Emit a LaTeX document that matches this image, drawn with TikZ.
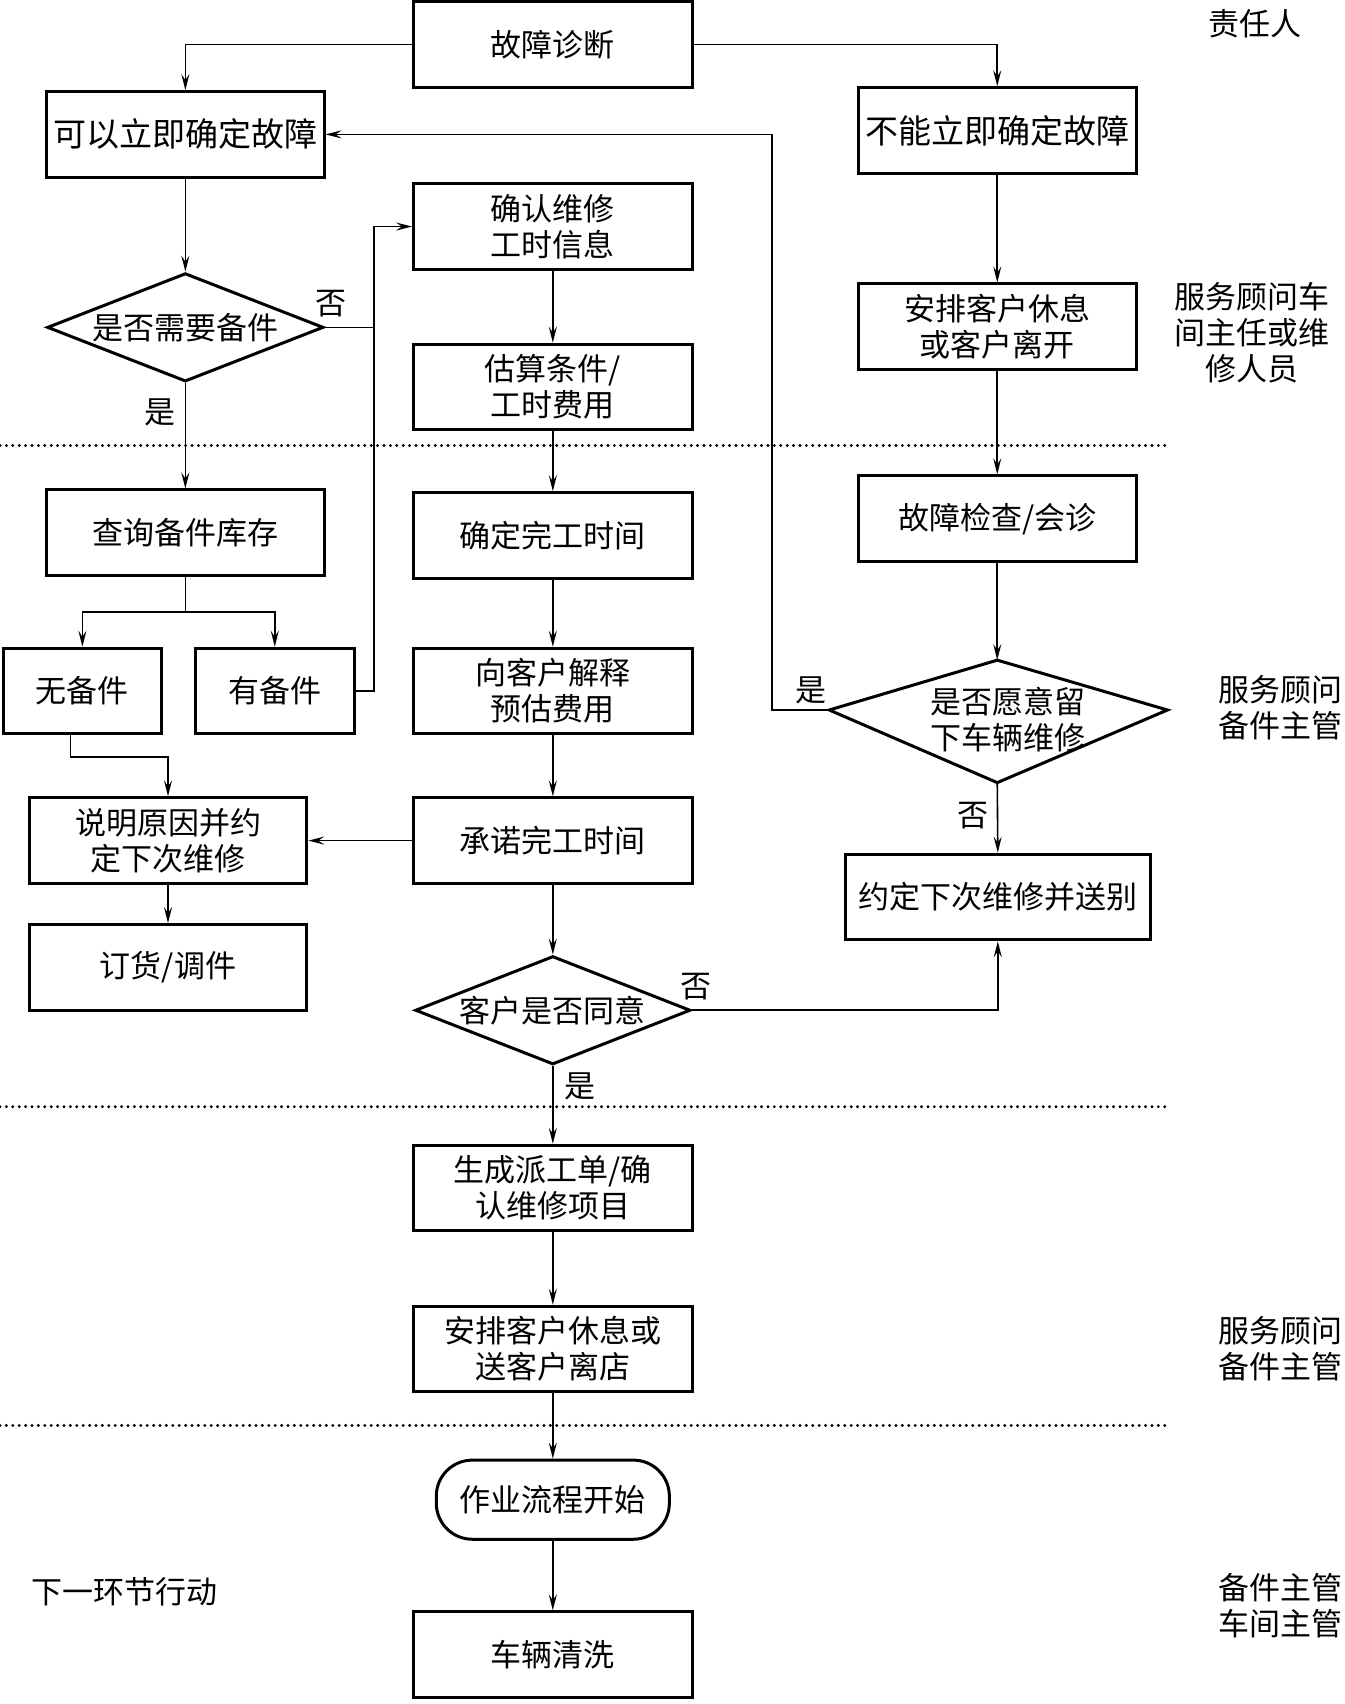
\documentclass[tikz,border=0pt]{standalone}
\usepackage{fontspec}
\newfontfamily\cjk{Noto Sans CJK SC}
\usetikzlibrary{arrows.meta,shapes.geometric}
\newlength\unitD \setlength\unitD{0.542pt}
\begin{document}
\begin{tikzpicture}[x=0.542pt,y=-0.542pt,
  every node/.style={font=\cjk\fontsize{15.5pt}{18pt}\selectfont},
  box/.style={draw,line width=1.5pt,minimum width=257\unitD,minimum height=79\unitD,inner sep=0pt,align=center},
  bigtext/.style={font=\cjk\fontsize{16.5pt}{20pt}\selectfont},
  dia/.style={draw,diamond,line width=1.5pt,inner sep=0pt},
  conn/.style={line width=0.8pt},
  arr/.style={conn,-{Stealth[length=8pt,width=4pt,inset=3pt]}},
  sep/.style={line width=1.6pt,line cap=round,dash pattern=on 0pt off 3.2pt},
  lbl/.style={inner sep=0pt},
  side/.style={align=center,inner sep=0pt}
]
\useasboundingbox (0,0) rectangle (1240,1572);

% separators
\draw[sep] (0,411) -- (1075,411);
\draw[sep] (0,1021) -- (1075,1021);
\draw[sep] (0,1315) -- (1075,1315);

% boxes
\node[box] (diag) at (510,41) {故障诊断};
\node[box,bigtext,minimum width=256\unitD] (canfix) at (171,124) {可以立即确定故障};
\node[box,bigtext,minimum width=256\unitD] (cannot) at (920,120.5) {不能立即确定故障};
\node[box] (confirm) at (510,209) {确认维修\\工时信息};
\node[dia,minimum width=255\unitD,minimum height=100\unitD,label={[lbl]center:是否需要备件}] (q1) at (171,302) {};
\node[box] (estimate) at (510,357) {估算条件/\\工时费用};
\node[box,minimum width=256\unitD] (arrange) at (920,301.5) {安排客户休息\\或客户离开};
\node[box,minimum width=256\unitD] (query) at (171,491.5) {查询备件库存};
\node[box] (finish) at (510,494) {确定完工时间};
\node[box,minimum width=256\unitD] (check) at (920,478.5) {故障检查/会诊};
\node[box,minimum width=146\unitD] (none) at (76,637.5) {无备件};
\node[box,minimum width=147\unitD] (have) at (253.5,637.5) {有备件};
\node[box] (explain) at (510,637.5) {向客户解释\\预估费用};
\node[box,minimum width=256\unitD] (reason) at (155,775.5) {说明原因并约\\定下次维修};
\node[box] (promise) at (510,775.5) {承诺完工时间};
\node[box,minimum width=281\unitD] (appoint) at (920.5,827.5) {约定下次维修并送别};
\node[box,minimum width=256\unitD] (order) at (155,892.5) {订货/调件};
\node[dia,minimum width=254\unitD,minimum height=100\unitD,label={[lbl]center:客户是否同意}] (q3) at (510,932) {};
\node[box] (dispatch) at (510,1096) {生成派工单/确\\认维修项目};
\node[box] (arrange2) at (510,1244.5) {安排客户休息或\\送客户离店};
\node[draw,line width=1.5pt,rounded corners=18pt,minimum width=215\unitD,minimum height=73\unitD,inner sep=0pt] (start) at (510,1383.5) {作业流程开始};
\node[box] (wash) at (510,1526.5) {车辆清洗};

% kite-shaped decision
\coordinate (q2t) at (920,609);
\coordinate (q2r) at (1077,655);
\coordinate (q2b) at (920,722);
\coordinate (q2l) at (765,655);
\draw[line width=1.5pt,line join=miter] (q2t) -- (q2r) -- (q2b) -- (q2l) -- cycle;
\node[align=center,inner sep=0pt] (q2) at (930,664) {是否愿意留\\下车辆维修};

% rails
\coordinate (rail) at (345,209);
\coordinate (rail2) at (712,122);

% connectors
\draw[arr] (diag.west) -| (canfix.north);
\draw[arr] (diag.east) -| (cannot.north);
\draw[arr] (canfix.south) -- (q1.north);
\draw[arr] (q1.east) -- (q1.east -| rail) |- (confirm.west);
\draw[conn] (have.east) -| (q1.east -| rail);
\draw[arr] (q1.south) -- (query.north);
\draw[conn] (query.south) -- ++(0,32) coordinate (split);
\draw[arr] (split) -| (none.north);
\draw[arr] (split) -| (have.north);
\draw[arr] ([xshift=-11\unitD]none.south) -- ++(0,20) -| (reason.north);
\draw[arr] (reason.south) -- (order.north);
\draw[arr] (confirm.south) -- (estimate.north);
\draw[arr] (estimate.south) -- (finish.north);
\draw[arr] (finish.south) -- (explain.north);
\draw[arr] (explain.south) -- (promise.north);
\draw[arr] (promise.west) -- (reason.east);
\draw[arr] (promise.south) -- (q3.north);
\draw[arr] (q3.east) -| (appoint.south);
\draw[arr] (q3.south) -- (dispatch.north);
\draw[arr] (dispatch.south) -- (arrange2.north);
\draw[arr] (arrange2.south) -- (start.north);
\draw[arr] (start.south) -- (wash.north);
\draw[arr] (cannot.south) -- (arrange.north);
\draw[arr] (arrange.south) -- (check.north);
\draw[arr] (check.south) -- (q2t);
\draw[arr] (q2l) -- (q2l -| rail2) |- (canfix.east);
\draw[arr] (q2b) -- (appoint.north);

% branch labels
\node[lbl] (l1) at (305,280) {否};
\node[lbl] (l2) at (148,380) {是};
\node[lbl] (l3) at (748,637) {是};
\node[lbl] (l4) at (898,752) {否};
\node[lbl] (l5) at (642,910) {否};
\node[lbl] (l6) at (535,1002) {是};

% side texts
\node[side] (r0) at (1158,22) {责任人};
\node[side] (r1) at (1155,307) {服务顾问车\\间主任或维\\修人员};
\node[side] (r2) at (1181,653) {服务顾问\\备件主管};
\node[side] (r3) at (1181,1244) {服务顾问\\备件主管};
\node[side] (r4) at (115,1468) {下一环节行动};
\node[side] (r5) at (1181,1481) {备件主管\\车间主管};
\end{tikzpicture}
\end{document}
